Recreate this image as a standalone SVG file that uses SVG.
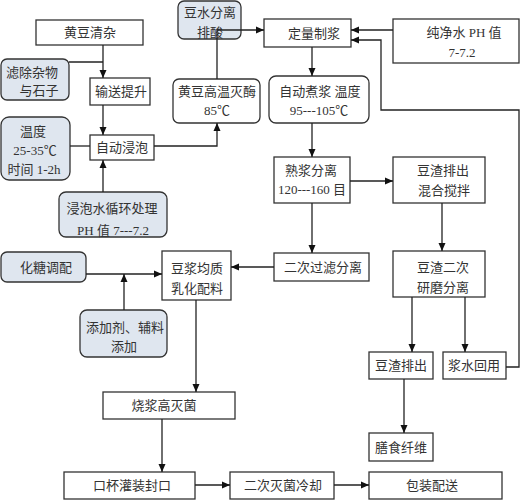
<svg xmlns="http://www.w3.org/2000/svg" width="521" height="500" viewBox="0 0 521 500">
<style>
.b{fill:#fff;stroke:#333;stroke-width:1.3}
.s{fill:#dfe6ef;stroke:#333;stroke-width:1.3}
text{font-family:"Liberation Serif","Noto Sans CJK SC",serif;font-size:13px;fill:#333;text-anchor:middle}
.c path{fill:none;stroke:#222;stroke-width:1.3}
</style>
<defs>
<marker id="a" markerUnits="userSpaceOnUse" markerWidth="9" markerHeight="8" refX="8" refY="4" orient="auto">
<path d="M0,0.5 L8,4 L0,7.5 Z" fill="#111"/>
</marker>
</defs>
<rect width="521" height="500" fill="#fff"/>
<g id="n1"><rect class="b" x="36" y="20" width="107" height="25"/><text x="90" y="37">黄豆清杂</text></g>
<g id="n2"><rect class="s" x="1" y="59" width="68" height="41" rx="6"/><text x="32" y="77">滤除杂物</text><text x="39" y="95">与石子</text></g>
<g id="n3"><rect class="b" x="90" y="78" width="60" height="27"/><text x="121" y="96">输送提升</text></g>
<g id="n4"><rect class="b" x="173" y="79" width="87" height="44" rx="6"/><text x="217" y="96">黄豆高温灭酶</text><text x="217" y="115">85℃</text></g>
<g id="n5"><rect class="s" x="178" y="1" width="63" height="38" rx="6"/><text x="210" y="17">豆水分离</text><text x="210" y="37">排酸</text></g>
<g id="n6"><rect class="s" x="1" y="117" width="69" height="63" rx="8"/><text x="33" y="136">温度</text><text x="35" y="155">25-35℃</text><text x="34" y="174">时间 1-2h</text></g>
<g id="n7"><rect class="b" x="90" y="135" width="64" height="25"/><text x="122" y="152">自动浸泡</text></g>
<g id="n8"><rect class="s" x="59" y="192" width="108" height="45" rx="7"/><text x="112" y="213">浸泡水循环处理</text><text x="113" y="235">PH 值 7---7.2</text></g>
<g id="n9"><rect class="b" x="264" y="19" width="87" height="28"/><text x="314" y="38">定量制浆</text></g>
<g id="n10"><rect class="b" x="393" y="19" width="126" height="44"/><text x="464" y="37">纯净水 PH 值</text><text x="462" y="57">7-7.2</text></g>
<g id="n11"><rect class="b" x="269" y="76" width="100" height="47" rx="7"/><text x="320" y="96">自动煮浆  温度</text><text x="319" y="115">95---105℃</text></g>
<g id="n12"><rect class="b" x="274" y="157" width="76" height="46"/><text x="311" y="175">熟浆分离</text><text x="312" y="194">120---160 目</text></g>
<g id="n13"><rect class="b" x="393" y="157" width="92" height="46"/><text x="443" y="175">豆渣排出</text><text x="444" y="195">混合搅拌</text></g>
<g id="n14"><rect class="b" x="274" y="253" width="95" height="28"/><text x="323" y="272">二次过滤分离</text></g>
<g id="n15"><rect class="b" x="393" y="251" width="92" height="46"/><text x="443" y="272">豆渣二次</text><text x="443" y="292">研磨分离</text></g>
<g id="n16"><rect class="s" x="1" y="252" width="85" height="30" rx="6"/><text x="46" y="272">化糖调配</text></g>
<g id="n17"><rect class="b" x="162" y="251" width="69" height="49"/><text x="197" y="273">豆浆均质</text><text x="197" y="293">乳化配料</text></g>
<g id="n18"><rect class="s" x="80" y="310" width="87" height="47" rx="7"/><text x="125" y="332">添加剂、辅料</text><text x="124" y="351">添加</text></g>
<g id="n19"><rect class="b" x="369" y="352" width="64" height="27"/><text x="401" y="370">豆渣排出</text></g>
<g id="n20"><rect class="b" x="443" y="352" width="63" height="27"/><text x="474" y="370">浆水回用</text></g>
<g id="n21"><rect class="b" x="369" y="433" width="64" height="28"/><text x="401" y="452">膳食纤维</text></g>
<g id="n22"><rect class="b" x="103" y="392" width="132" height="27"/><text x="164" y="410">烧浆高灭菌</text></g>
<g id="n23"><rect class="b" x="64" y="472" width="131" height="27"/><text x="132" y="490">口杯灌装封口</text></g>
<g id="n24"><rect class="b" x="230" y="472" width="104" height="27"/><text x="283" y="490">二次灭菌冷却</text></g>
<g id="n25"><rect class="b" x="369" y="472" width="133" height="27"/><text x="432" y="490">包装配送</text></g>
<g class="c" id="connectors">
<path d="M103,45 V78" marker-end="url(#a)"/>
<path d="M69,62 H103"/>
<path d="M103,105 V135" marker-end="url(#a)"/>
<path d="M70,146 H90"/>
<path d="M103,192 V160" marker-end="url(#a)"/>
<path d="M154,146 H217 V123" marker-end="url(#a)"/>
<path d="M217,79 V30 H264" marker-end="url(#a)"/>
<path d="M393,30 H351" marker-end="url(#a)"/>
<path d="M506,367 H519 V110 H381 V40 H351" marker-end="url(#a)"/>
<path d="M312,47 V76" marker-end="url(#a)"/>
<path d="M312,123 V157" marker-end="url(#a)"/>
<path d="M350,181 H393" marker-end="url(#a)"/>
<path d="M312,203 V253" marker-end="url(#a)"/>
<path d="M442,203 V251" marker-end="url(#a)"/>
<path d="M274,267 H231" marker-end="url(#a)"/>
<path d="M86,274 H162" marker-end="url(#a)"/>
<path d="M124,310 V274" marker-end="url(#a)"/>
<path d="M196,300 V392" marker-end="url(#a)"/>
<path d="M412,297 V352" marker-end="url(#a)"/>
<path d="M465,297 V352" marker-end="url(#a)"/>
<path d="M404,379 V433" marker-end="url(#a)"/>
<path d="M162,419 V472" marker-end="url(#a)"/>
<path d="M195,485 H230" marker-end="url(#a)"/>
<path d="M334,485 H369" marker-end="url(#a)"/>
</g>
</svg>
